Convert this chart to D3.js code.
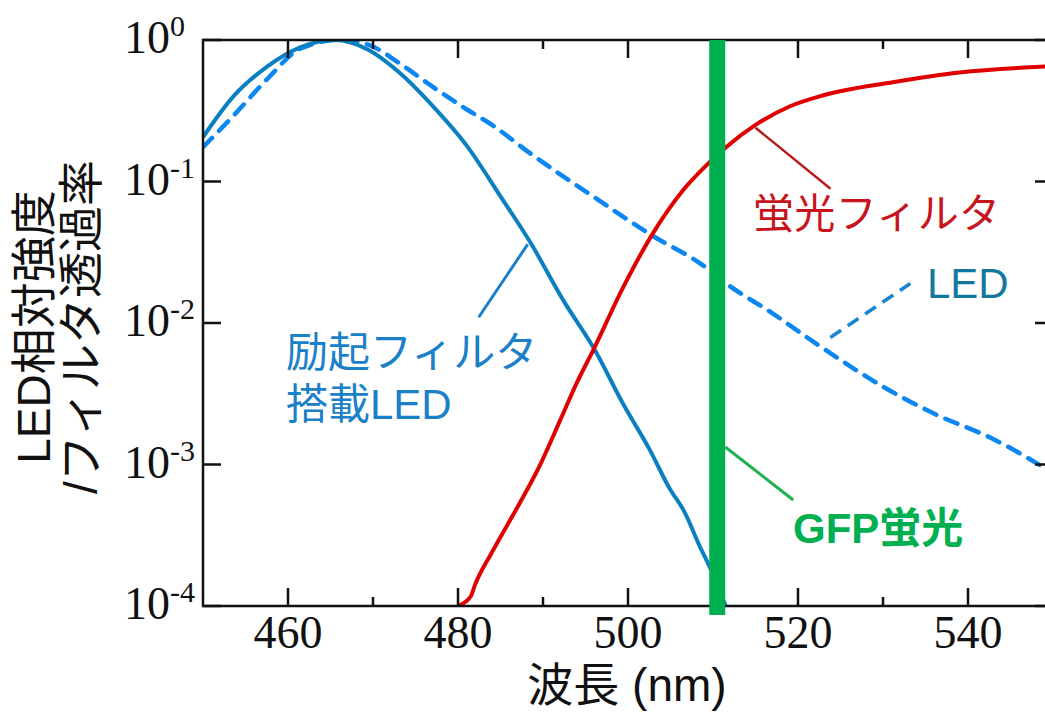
<!DOCTYPE html>
<html>
<head>
<meta charset="utf-8">
<script src="https://cdn.jsdelivr.net/npm/d3@7"></script>
<style>
  body { margin: 0; background: #fff; }
  svg { display: block; }
  .serif { font-family: "Liberation Serif", "Tinos", "Times New Roman", Times, "DejaVu Serif", serif; }
  .sans { font-family: "Liberation Sans", "Noto Sans CJK JP", sans-serif; }
</style>
</head>
<body>
<svg id="chart" width="1045" height="715"></svg>
<script>
// LED emission spectrum (relative intensity)
const ledWl  = [450, 453.5, 457.5, 461.5, 466, 469.5, 473, 477, 481, 484, 488.5, 496.5, 502.5, 509, 511.5, 517, 522, 530, 536, 543, 550];
const ledVal = [0.175, 0.288, 0.525, 0.871, 1.0, 0.923, 0.692, 0.468, 0.324, 0.251, 0.158, 0.0741, 0.0427, 0.0251, 0.0191, 0.0117, 0.00724, 0.00355, 0.00229, 0.00151, 0.00087];

// LED behind the excitation filter
const exWl  = [450, 453.5, 457.5, 461.5, 465.5, 469.5, 473, 477, 481, 485, 488.5, 492.5, 496, 499.5, 502.5, 505, 506.5, 508.5, 509.5, 511.5];
const exVal = [0.206, 0.395, 0.646, 0.891, 1.0, 0.851, 0.596, 0.343, 0.180, 0.0785, 0.0372, 0.0141, 0.0066, 0.00263, 0.00129, 0.00066, 0.00048, 0.00026, 0.000195, 0.0001];

// fluorescence (emission) filter transmittance
const emWl  = [480, 481.5, 482, 484, 487, 489.5, 492, 494, 496, 499.5, 503, 506.5, 509.5, 511.5, 515, 519, 523, 531, 539, 550];
const emVal = [0.0001, 0.000117, 0.000141, 0.00024, 0.0005, 0.00095, 0.00204, 0.0038, 0.0066, 0.0182, 0.0437, 0.0871, 0.135, 0.174, 0.251, 0.339, 0.407, 0.501, 0.589, 0.653];

// GFP emission line
const gfpPeak = 510.5;

// axis ticks
const majorTicks = [460, 480, 500, 520, 540];
const minorTicks = [470, 490, 510, 530];
const decadeExponents = [0, -1, -2, -3, -4];

const svg = d3.select("#chart");
const plot = { left: 203, top: 40, right: 1053, bottom: 606 };

const x = d3.scaleLinear().domain([450, 550]).range([plot.left, plot.right]);
const y = d3.scaleLog().domain([1e-4, 1]).range([plot.bottom, plot.top]);

svg.append("defs").append("clipPath").attr("id", "plotClip")
  .append("rect")
  .attr("x", plot.left).attr("y", plot.top)
  .attr("width", plot.right - plot.left).attr("height", plot.bottom - plot.top);

const line = d3.line()
  .x(d => x(d[0]))
  .y(d => y(d[1]))
  .curve(d3.curveMonotoneX);

const zip = (a, b) => a.map((v, i) => [v, b[i]]);

const curves = svg.append("g").attr("clip-path", "url(#plotClip)");

// LED (dashed)
curves.append("path")
  .datum(zip(ledWl, ledVal))
  .attr("d", line)
  .attr("fill", "none")
  .attr("stroke", "#0c87f2")
  .attr("stroke-width", 4.5)
  .attr("stroke-dasharray", "13,10")
  .attr("stroke-linecap", "round");

// filtered LED
curves.append("path")
  .datum(zip(exWl, exVal))
  .attr("d", line)
  .attr("fill", "none")
  .attr("stroke", "#0a80c0")
  .attr("stroke-width", 4)
  .attr("stroke-linejoin", "round");

// fluorescence filter
curves.append("path")
  .datum(zip(emWl, emVal))
  .attr("d", line)
  .attr("fill", "none")
  .attr("stroke", "#e00000")
  .attr("stroke-width", 4)
  .attr("stroke-linejoin", "round");

// frame
const axes = svg.append("g").attr("stroke", "#111").attr("stroke-width", 2.5).attr("fill", "none");
axes.append("rect")
  .attr("x", plot.left).attr("y", plot.top)
  .attr("width", plot.right - plot.left).attr("height", plot.bottom - plot.top);

const majorLen = 18, minorLen = 9;
majorTicks.forEach(t => {
  axes.append("line").attr("x1", x(t)).attr("x2", x(t)).attr("y1", plot.bottom).attr("y2", plot.bottom - majorLen);
  axes.append("line").attr("x1", x(t)).attr("x2", x(t)).attr("y1", plot.top).attr("y2", plot.top + majorLen);
});
minorTicks.forEach(t => {
  axes.append("line").attr("x1", x(t)).attr("x2", x(t)).attr("y1", plot.bottom).attr("y2", plot.bottom - minorLen);
  axes.append("line").attr("x1", x(t)).attr("x2", x(t)).attr("y1", plot.top).attr("y2", plot.top + minorLen);
});
decadeExponents.forEach(e => {
  const yy = y(Math.pow(10, e));
  axes.append("line").attr("x1", plot.left).attr("x2", plot.left + majorLen).attr("y1", yy).attr("y2", yy);
  axes.append("line").attr("x1", plot.right).attr("x2", plot.right - majorLen).attr("y1", yy).attr("y2", yy);
});

// GFP emission bar
svg.append("rect")
  .attr("x", x(gfpPeak) - 8)
  .attr("y", plot.top)
  .attr("width", 16)
  .attr("height", plot.bottom - plot.top + 9)
  .attr("fill", "#00b050");

// x tick labels
svg.append("g").attr("class", "serif").selectAll("text")
  .data(majorTicks)
  .join("text")
  .attr("x", d => x(d))
  .attr("y", 648)
  .attr("text-anchor", "middle")
  .attr("font-size", 46)
  .attr("fill", "#111")
  .text(d => d);

// y tick labels 10^n
const yLabels = svg.append("g").attr("class", "serif").attr("fill", "#111");
decadeExponents.forEach(e => {
  const yy = y(Math.pow(10, e));
  const t = yLabels.append("text")
    .attr("x", 124)
    .attr("y", yy + 13)
    .attr("font-size", 46);
  t.append("tspan").text("10");
  t.append("tspan").attr("font-size", 30).attr("dy", -17).text(String(e));
});

// axis titles
svg.append("text")
  .attr("class", "sans")
  .attr("x", 627).attr("y", 701)
  .attr("text-anchor", "middle")
  .attr("font-size", 46)
  .attr("fill", "#111")
  .text("波長 (nm)");

const yTitle = svg.append("g").attr("class", "sans").attr("transform", "translate(0,327) rotate(-90)")
  .attr("font-size", 46).attr("fill", "#111").attr("text-anchor", "middle");
yTitle.append("text").attr("x", 0).attr("y", 33).attr("dy", "0.36em").text("LED相対強度");
yTitle.append("text").attr("x", 0).attr("y", 80).attr("dy", "0.36em").text("/フィルタ透過率");

// annotations
const ann = svg.append("g").attr("class", "sans").attr("font-size", 42);

// fluorescence filter callout
{
  const ax = x(515), ay = y(0.24);
  ann.append("line").attr("x1", ax).attr("y1", ay).attr("x2", ax + 75).attr("y2", ay + 61)
    .attr("stroke", "#b81a1a").attr("stroke-width", 2.5);
  ann.append("text").attr("x", 753).attr("y", 228).attr("fill", "#c8141c")
    .attr("font-size", 41).attr("textLength", 247).attr("lengthAdjust", "spacing")
    .text("蛍光フィルタ");
}

// LED callout
{
  const ax = x(523.8), ay = y(0.0079);
  ann.append("line").attr("x1", ax).attr("y1", ay).attr("x2", ax + 80).attr("y2", ay - 54)
    .attr("stroke", "#1a85d0").attr("stroke-width", 3.5).attr("stroke-dasharray", "13,8");
  ann.append("text").attr("x", 927).attr("y", 298).attr("fill", "#13789e").text("LED");
}

// filtered LED callout
{
  const ax = x(488.2), ay = y(0.036);
  ann.append("line").attr("x1", ax).attr("y1", ay).attr("x2", ax - 49).attr("y2", ay + 73)
    .attr("stroke", "#1a80c8").attr("stroke-width", 3);
  ann.append("text").attr("x", 286).attr("y", 367).attr("fill", "#1a80c8").text("励起フィルタ");
  ann.append("text").attr("x", 286).attr("y", 419).attr("fill", "#1a80c8").text("搭載LED");
}

// GFP callout
{
  const ax = x(gfpPeak) + 8, ay = y(0.00133);
  ann.append("line").attr("x1", ax).attr("y1", ay).attr("x2", ax + 68).attr("y2", ay + 53)
    .attr("stroke", "#20b050").attr("stroke-width", 3);
  ann.append("text").attr("x", 793).attr("y", 543).attr("fill", "#00b050")
    .attr("font-weight", "bold").text("GFP蛍光");
}
</script>
</body>
</html>
